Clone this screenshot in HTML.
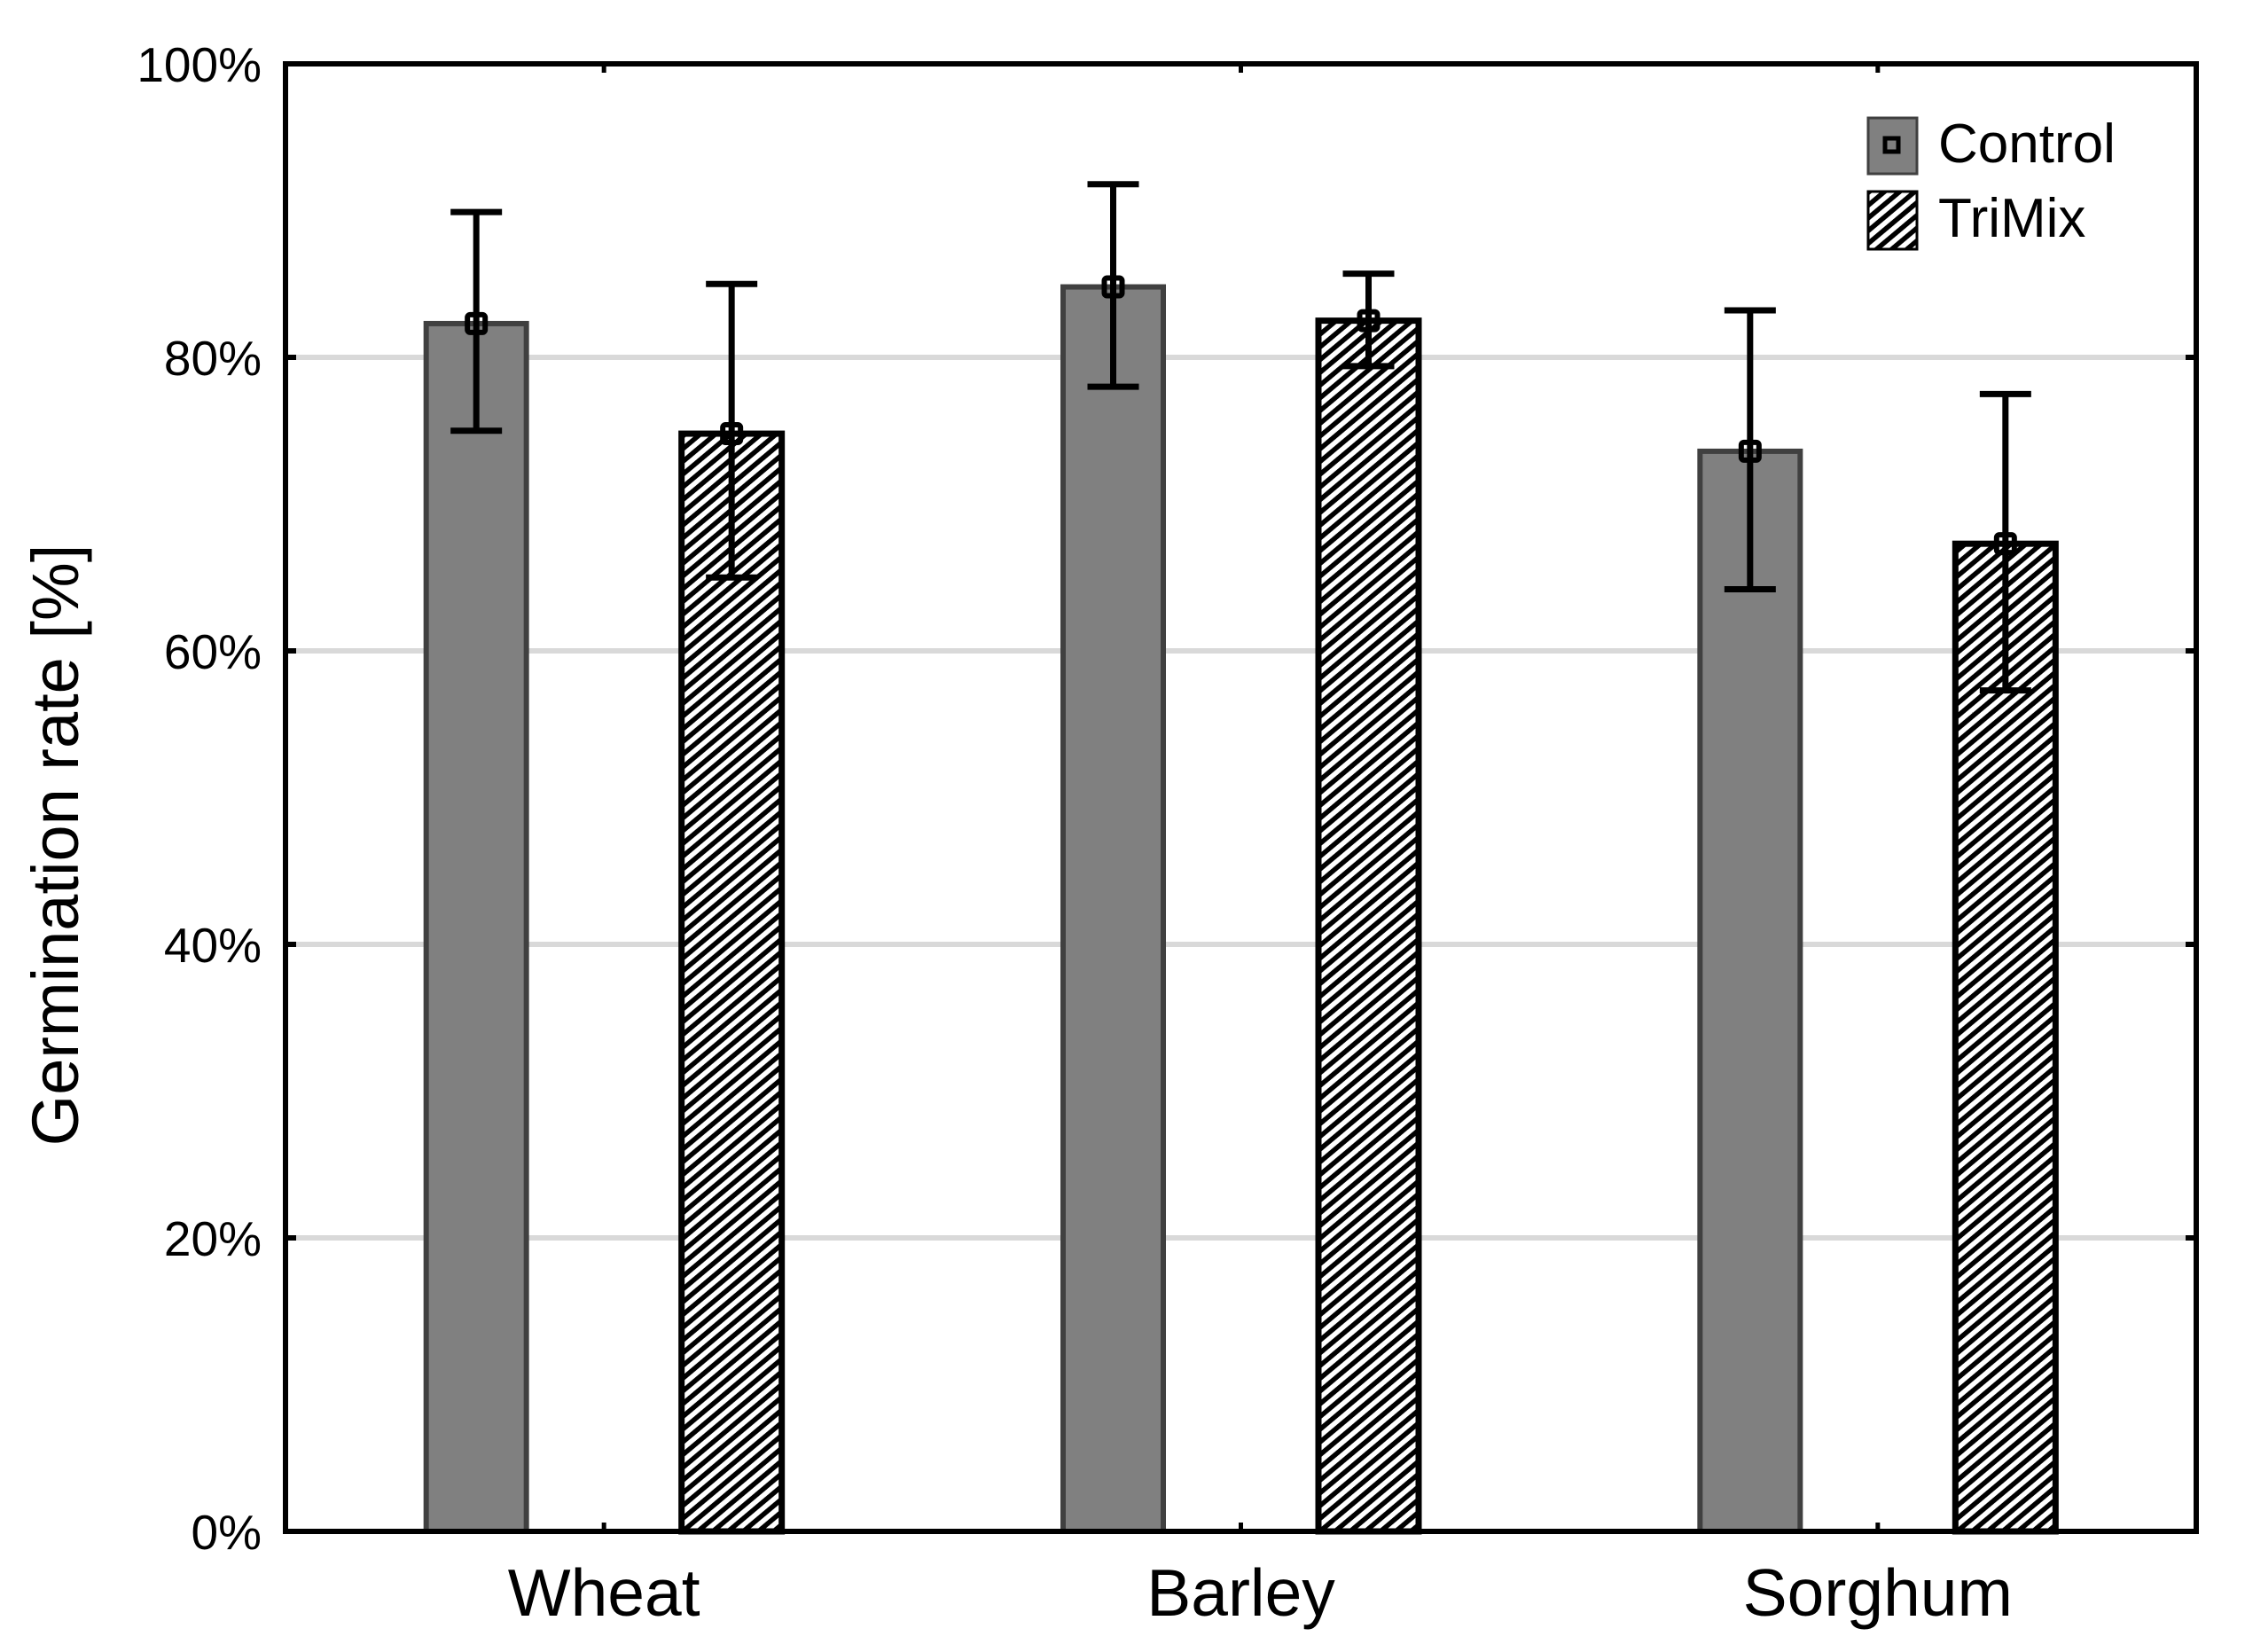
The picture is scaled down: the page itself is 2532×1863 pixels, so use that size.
<!DOCTYPE html>
<html><head><meta charset="utf-8"><style>
html,body{margin:0;padding:0;background:#fff;}
svg{display:block;font-family:"Liberation Sans",sans-serif;}
</style></head><body>
<svg id="chart" width="2532" height="1863" viewBox="0 0 2532 1863" xmlns="http://www.w3.org/2000/svg">
<defs>
<pattern id="hatch" patternUnits="userSpaceOnUse" width="11" height="11" patternTransform="rotate(-40)">
<rect width="11" height="11" fill="#fff"/>
<rect width="11" height="5.5" fill="#000"/>
</pattern>
</defs>
<g id="grid"></g>
<g id="bars"></g>
<g id="axes"></g>
<g id="labels"></g>
<g id="legend">
<g>
<rect x="2107" y="133" width="55" height="63" fill="#808080" stroke="#404040" stroke-width="3"/>
<rect x="2126" y="156" width="15" height="15" fill="none" stroke="#000" stroke-width="5"/>
<text x="2186" y="183" font-size="62" fill="#000">Control</text>
</g>
<g>
<rect x="2107" y="216" width="55" height="65" fill="url(#hatch)" stroke="#000" stroke-width="3"/>
<text x="2186" y="267" font-size="62" fill="#000">TriMix</text>
</g>
</g>
</svg>
<script>
const categories = ["Wheat", "Barley", "Sorghum"];
const controlValues = [82.3, 84.8, 73.6];
const controlLow = [75.0, 78.0, 64.2];
const controlHigh = [89.9, 91.8, 83.2];
const trimixValues = [74.8, 82.5, 67.3];
const trimixLow = [65.0, 79.4, 57.3];
const trimixHigh = [85.0, 85.7, 77.5];
const yTicks = [0, 20, 40, 60, 80, 100];
const yTickLabels = ["0%", "20%", "40%", "60%", "80%", "100%"];

const NS = "http://www.w3.org/2000/svg";
const L = 322, R = 2477, T = 72, B = 1727;
const y = v => B - (v / 100) * (B - T);
const band = (R - L) / categories.length;
const xc = i => L + (i + 0.5) * band;
const barW = 113, off = 144;
function mk(tag, attrs, parent) {
  const e = document.createElementNS(NS, tag);
  for (const k in attrs) e.setAttribute(k, attrs[k]);
  parent.appendChild(e);
  return e;
}
const grid = document.getElementById('grid');
const bars = document.getElementById('bars');
const axes = document.getElementById('axes');
const labels = document.getElementById('labels');

yTicks.forEach((t, i) => {
  if (t > 0 && t < 100) {
    const g = mk('line', {x1: L, x2: R, y1: y(t), y2: y(t), stroke: '#d9d9d9', 'stroke-width': 6}, grid);
    
    
  }
  const tl = mk('line', {x1: L, x2: L + 12, y1: y(t), y2: y(t), stroke: '#000', 'stroke-width': 6}, axes);
  
  
  const tr = mk('line', {x1: R - 12, x2: R, y1: y(t), y2: y(t), stroke: '#000', 'stroke-width': 6}, axes);
  
  
  const lab = mk('text', {x: 295, y: y(t) + 20, 'text-anchor': 'end', 'font-size': 55, fill: '#000'}, labels);
  lab.textContent = yTickLabels[i];
  
  
});

function drawBar(i, v, lo, hi, isCtrl) {
  const cx = xc(i) + (isCtrl ? -off : off);
  const r = mk('rect', {x: cx - barW / 2, y: y(v), width: barW, height: B - y(v),
    fill: isCtrl ? '#808080' : 'url(#hatch)', stroke: isCtrl ? '#404040' : '#000', 'stroke-width': isCtrl ? 6 : 7}, bars);
  
  
  const e = mk('path', {d: `M${cx},${y(hi)}V${y(lo)}M${cx - 29},${y(hi)}H${cx + 29}M${cx - 29},${y(lo)}H${cx + 29}`,
    stroke: '#000', 'stroke-width': 7, fill: 'none'}, bars);
  
  
  const m = mk('rect', {x: cx - 10, y: y(v) - 10, width: 20, height: 20, fill: 'none', stroke: '#000', 'stroke-width': 6, rx: 3}, bars);
  
  
}
categories.forEach((c, i) => {
  drawBar(i, controlValues[i], controlLow[i], controlHigh[i], true);
  drawBar(i, trimixValues[i], trimixLow[i], trimixHigh[i], false);
  const tb = mk('line', {x1: xc(i), x2: xc(i), y1: B, y2: B - 10, stroke: '#000', 'stroke-width': 5}, axes);
  
  
  const tt = mk('line', {x1: xc(i), x2: xc(i), y1: T, y2: T + 10, stroke: '#000', 'stroke-width': 5}, axes);
  
  
  const lab = mk('text', {x: xc(i), y: 1822, 'text-anchor': 'middle', 'font-size': 75, fill: '#000'}, labels);
  lab.textContent = c;
  
  
});
const frame = mk('rect', {x: L, y: T, width: R - L, height: B - T, fill: 'none', stroke: '#000', 'stroke-width': 6}, axes);


const yt = mk('text', {x: 0, y: 0, transform: 'translate(88,953) rotate(-90)', 'text-anchor': 'middle', 'font-size': 74, fill: '#000'}, labels);
yt.textContent = 'Germination rate [%]';


</script>
</body></html>
